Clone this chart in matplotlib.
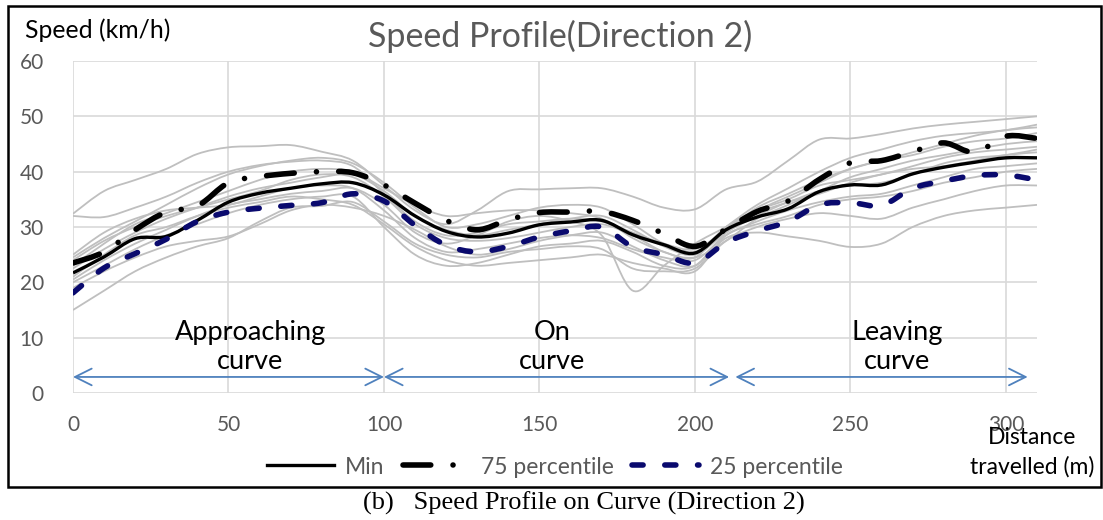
import numpy as np
import matplotlib
matplotlib.use('Agg')
import matplotlib.pyplot as plt
from matplotlib.patches import Rectangle, PathPatch
from matplotlib.path import Path
from matplotlib.lines import Line2D

# distance travelled (m), one reading every 10 m
dist = np.arange(0, 311, 10)

# summary profiles (km/h)
v_min = [21.7, 24.6, 27.9, 28.3, 31.2, 34.5, 36.1, 37.0, 37.8, 38.0, 35.8, 32.0,
         29.2, 28.2, 28.9, 30.4, 30.9, 31.2, 28.6, 26.8, 25.3, 29.5, 31.8, 33.3,
         36.4, 37.6, 37.6, 39.6, 40.8, 41.7, 42.5, 42.5]
v_p75 = [23.5, 25.5, 29.5, 32.7, 33.8, 38.0, 39.1, 39.7, 40.0, 39.8, 37.6, 34.3,
         31.2, 29.5, 31.3, 32.6, 32.7, 32.8, 31.2, 28.8, 26.5, 29.6, 32.8, 34.7,
         38.6, 41.6, 42.0, 43.6, 45.2, 43.5, 46.4, 46.0]
v_p25 = [18.1, 22.6, 25.2, 27.8, 31.0, 32.7, 33.4, 33.9, 34.4, 36.0, 34.7, 30.3,
         26.7, 25.5, 26.5, 28.2, 29.3, 30.0, 26.4, 25.0, 23.5, 27.2, 29.3, 31.0,
         34.0, 34.4, 33.9, 37.0, 38.3, 39.3, 39.4, 38.5]

# individual runs (grey)
run01 = [32.4, 36.5, 38.5, 40.5, 43.2, 44.4, 44.6, 44.8, 43.6, 42.0, 37.5, 33.0,
         30.5, 33.0, 36.5, 36.8, 37.0, 37.0, 35.5, 33.5, 33.2, 36.8, 38.2, 42.0,
         45.8, 46.0, 46.8, 47.8, 48.5, 49.0, 49.5, 50.0]
run02 = [32.0, 31.8, 33.5, 35.5, 38.0, 40.0, 41.2, 41.8, 42.0, 41.0, 36.0, 31.0,
         28.5, 29.0, 30.5, 31.0, 31.5, 31.0, 29.0, 27.0, 26.0, 29.5, 33.5, 36.0,
         38.5, 40.5, 42.0, 43.5, 45.0, 46.5, 47.5, 48.0]
run03 = [15.0, 18.5, 22.0, 24.5, 26.5, 28.0, 31.0, 33.5, 33.8, 34.5, 31.0, 27.0,
         25.0, 24.5, 25.5, 26.0, 26.5, 26.0, 22.5, 22.0, 22.5, 27.5, 30.0, 31.5,
         32.5, 32.0, 31.5, 33.5, 35.0, 36.5, 37.5, 37.5]
run04 = [19.0, 22.0, 24.5, 26.5, 27.5, 28.3, 30.5, 33.0, 34.0, 33.5, 32.0, 29.5,
         26.5, 25.0, 26.0, 27.5, 28.5, 29.0, 26.5, 24.0, 23.0, 28.0, 29.0, 28.3,
         27.5, 26.4, 27.0, 30.0, 32.0, 33.0, 33.5, 34.0]
run05 = [20.5, 24.0, 27.0, 29.5, 32.0, 34.0, 35.0, 36.0, 36.5, 37.0, 34.0, 29.0,
         27.0, 28.5, 31.0, 32.0, 31.0, 28.5, 18.5, 23.0, 27.0, 30.0, 33.0, 35.0,
         37.5, 38.5, 39.5, 41.0, 42.5, 43.5, 44.0, 44.5]
run06 = [24.5, 28.0, 31.0, 34.0, 37.0, 39.5, 41.0, 42.0, 42.5, 41.5, 38.0, 33.5,
         30.0, 30.5, 32.0, 33.5, 34.0, 33.5, 30.5, 27.0, 25.5, 30.0, 34.0, 37.0,
         40.0, 42.5, 44.0, 45.5, 46.5, 47.0, 47.5, 48.5]
run07 = [22.5, 26.0, 29.0, 31.5, 33.5, 35.5, 37.0, 38.0, 39.0, 39.5, 36.5, 32.0,
         29.5, 28.5, 29.5, 30.5, 31.5, 32.0, 29.5, 26.5, 25.0, 29.0, 32.0, 34.5,
         36.0, 38.0, 39.5, 40.5, 41.0, 42.0, 43.0, 43.5]
run08 = [21.0, 25.0, 28.5, 30.0, 32.0, 33.5, 34.5, 35.5, 35.0, 34.0, 30.5, 26.5,
         24.0, 23.0, 23.5, 24.0, 24.5, 25.0, 23.5, 22.5, 22.0, 28.5, 30.5, 32.0,
         34.0, 35.0, 35.5, 36.5, 38.0, 39.0, 40.0, 40.5]
run09 = [23.0, 27.0, 30.5, 32.5, 34.5, 36.5, 38.5, 40.0, 40.5, 40.0, 37.0, 34.0,
         32.0, 32.5, 33.0, 33.0, 32.5, 31.5, 28.0, 25.5, 24.5, 30.0, 33.0, 35.5,
         38.0, 40.5, 42.0, 43.0, 44.5, 45.5, 46.0, 47.0]
run10 = [25.0, 29.0, 31.5, 33.0, 33.5, 34.0, 35.5, 37.0, 37.5, 37.0, 33.0, 28.0,
         25.5, 26.0, 27.0, 28.0, 28.5, 28.0, 26.0, 24.5, 24.0, 28.5, 31.0, 33.0,
         34.5, 35.5, 36.0, 37.5, 39.0, 40.5, 41.0, 41.5]
run11 = [20.0, 23.0, 26.0, 28.5, 30.5, 32.5, 34.0, 35.0, 35.5, 35.5, 30.0, 25.0,
         23.0, 23.5, 25.0, 26.5, 27.0, 27.5, 25.5, 23.0, 23.0, 29.0, 32.5, 34.5,
         36.5, 37.5, 38.0, 39.5, 41.5, 42.5, 43.0, 44.0]
run12 = [24.0, 27.5, 30.0, 32.0, 33.5, 35.0, 36.5, 38.5, 39.5, 39.0, 35.5, 30.5,
         28.0, 27.5, 28.0, 29.0, 30.0, 30.5, 28.5, 25.5, 24.5, 27.5, 31.5, 34.0,
         36.5, 39.0, 40.5, 42.0, 43.0, 44.0, 45.0, 45.5]
runs = [run01, run02, run03, run04, run05, run06, run07, run08, run09, run10, run11, run12]

# zones along the road: (start, end, label, label x)
zones = [(0, 100, 'Approaching\ncurve', 57),
         (100, 211, 'On\ncurve', 154),
         (213, 307, 'Leaving\ncurve', 265)]


def smooth_path(x, y):
    # Excel-style smoothed line: bezier segments through the readings
    p = np.column_stack([x, y]).astype(float)
    ext = np.vstack([p[0], p, p[-1]])
    verts = [p[0]]
    codes = [Path.MOVETO]
    for i in range(len(p) - 1):
        p0, p1, p2, p3 = ext[i], ext[i + 1], ext[i + 2], ext[i + 3]
        verts += [p1 + (p2 - p0) / 6, p2 - (p3 - p1) / 6, p2]
        codes += [Path.CURVE4] * 3
    return Path(verts, codes)


def draw(ax, y, **kw):
    ax.add_patch(PathPatch(smooth_path(dist, y), fill=False, **kw))


plt.rcParams['font.family'] = ['Lato', 'DejaVu Sans']

fig = plt.figure(figsize=(11.03, 5.20), dpi=100)
ax = fig.add_axes([73/1103, 1-393/520, (1037-73)/1103, (393-61)/520])

for r in runs:
    draw(ax, r, edgecolor='#BFBFBF', lw=1.3, zorder=2)

dd75 = (5, 4, 0.01, 4)
dd25 = (2.0, 3.9)
st_min = dict(color='black', lw=2.4)
st_p75 = dict(color='black', lw=4, dashes=dd75, dash_capstyle='round')
st_p25 = dict(color='#0A0A6E', lw=4, dashes=dd25, dash_capstyle='round')

draw(ax, v_min, edgecolor='black', lw=2.4, zorder=4)
draw(ax, v_p75, edgecolor='black', lw=4, linestyle=(0, dd75),
     capstyle='round', zorder=4)
draw(ax, v_p25, edgecolor='#0A0A6E', lw=4, linestyle=(0, dd25),
     capstyle='round', zorder=4)

for x0, x1, lab, xl in zones:
    ax.annotate('', xy=(x1, 2.9), xytext=(x0, 2.9),
                arrowprops=dict(arrowstyle='<->,head_length=0.6,head_width=0.3',
                                color='#4F81BD', lw=1.3, shrinkA=0, shrinkB=0,
                                mutation_scale=20))
    ax.text(xl, 8.3, lab, ha='center', va='center', fontsize=19.5,
            linespacing=1.2, color='black')

ax.set_xlim(0, 310)
ax.set_ylim(0, 60)
ax.set_xticks(range(0, 301, 50))
ax.set_yticks(range(0, 61, 10))
ax.grid(True, color='#D9D9D9', lw=1.2, zorder=0)
ax.set_axisbelow(True)
for s in ax.spines.values():
    s.set_visible(False)
ax.tick_params(length=0, labelsize=15, labelcolor='#595959')
ax.tick_params(axis='y', pad=21)
ax.tick_params(axis='x', pad=16)

fig.text(25/1103, 1-30/520, 'Speed (km/h)', fontsize=17.8, va='center', ha='left')
fig.text(560/1103, 1-36/520, 'Speed Profile(Direction 2)', fontsize=24.5,
         color='#595959', ha='center', va='center')
fig.text(1032/1103, 1-452/520, 'Distance\ntravelled (m)', fontsize=16.5,
         ha='center', va='center', linespacing=1.45)

handles = [Line2D([], [], **st_min), Line2D([], [], **st_p75), Line2D([], [], **st_p25)]
fig.legend(handles, ['Min', '75 percentile', '25 percentile'], loc='center',
           bbox_to_anchor=(555/1103, 1-467/520), ncol=3, frameon=False,
           fontsize=16.5, labelcolor='#595959', handlelength=2.9,
           columnspacing=0.8, handletextpad=0.5)

fig.patches.append(Rectangle((8/1103, 1-487/520), 1093/1103, 481/520,
                             transform=fig.transFigure, fill=False,
                             lw=1.8, edgecolor='black'))
fig.text(584/1103, 1-503/520, '(b)   Speed Profile on Curve (Direction 2)',
         family='Liberation Serif', fontsize=19, ha='center', va='center')

fig.savefig('out.png', dpi=100)
